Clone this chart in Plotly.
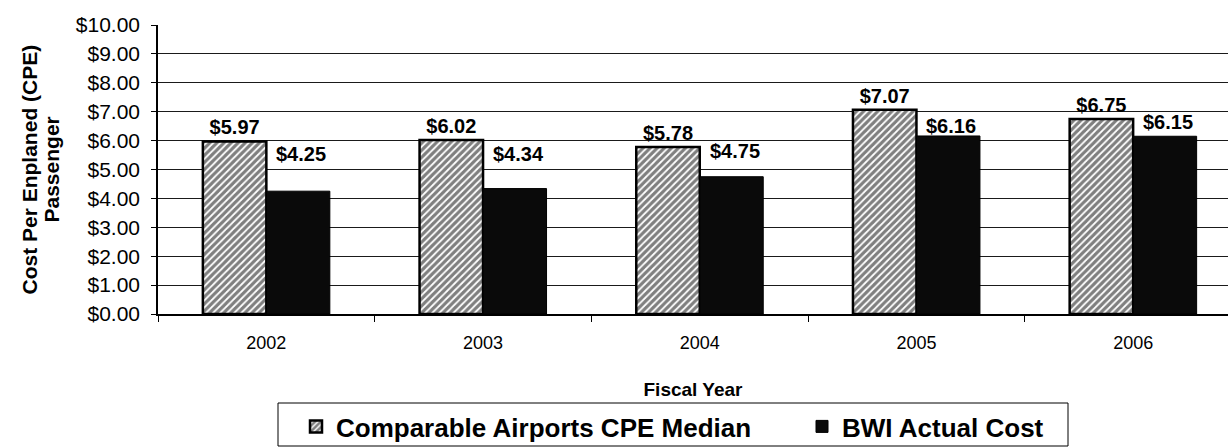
import plotly.graph_objects as go

years = ["2002", "2003", "2004", "2005", "2006"]
comparable_median = [5.97, 6.02, 5.78, 7.07, 6.75]
bwi_actual = [4.25, 4.34, 4.75, 6.16, 6.15]
bwi_label_anchor = [5.55, 5.55, 5.64, 6.49, 6.63]
y_ticks = [0, 1, 2, 3, 4, 5, 6, 7, 8, 9, 10]
y_tick_text = ["$%.2f" % v for v in y_ticks]
series_names = ["Comparable Airports CPE Median", "BWI Actual Cost"]

FONT = "Liberation Sans, Arial, sans-serif"
L, R, T, B, W, H = 158, 0, 25, 133, 1228, 447
PW, PH = W - L - R, H - T - B
CAT_W = 216.7  # pixel width of one category in the reference (chart is cropped at right)


def px_x(p):
    return (p - L) / PW


def px_y(p):
    return (H - B - p) / PH


fig = go.Figure()
fig.add_trace(go.Bar(
    x=years, y=comparable_median, name=series_names[0], legend="legend",
    marker=dict(color="white", line=dict(color="black", width=2.5),
                pattern=dict(shape="/", fgcolor="black", bgcolor="white", size=5, solidity=0.65)),
    text=["$%.2f" % v for v in comparable_median], textposition="outside",
    textfont=dict(family=FONT, size=20, color="black", weight="bold"),
    cliponaxis=False,
))
fig.add_trace(go.Bar(
    x=years, y=bwi_actual, name=series_names[1], legend="legend2",
    marker=dict(color="#0a0a0a", line=dict(color="black", width=1)),
))

for i, yr in enumerate(years):
    fig.add_annotation(
        x=i, y=bwi_label_anchor[i], xref="x", yref="y",
        text="<b>$%.2f</b>" % bwi_actual[i], showarrow=False,
        xshift=35, yanchor="middle",
        font=dict(family=FONT, size=20, color="black"),
    )

for txt, cx in [("Cost Per Enplaned (CPE)", 29), ("Passenger", 51)]:
    fig.add_annotation(
        x=px_x(cx), y=0.5, xref="paper", yref="paper",
        text="<b>%s</b>" % txt, textangle=-90,
        showarrow=False, xanchor="center", yanchor="middle",
        font=dict(family=FONT, size=21, color="black"),
    )

# legend frame
fig.add_shape(type="rect", xref="paper", yref="paper",
              x0=px_x(278), x1=px_x(1068), y0=px_y(403), y1=px_y(446),
              line=dict(color="black", width=1), fillcolor="rgba(0,0,0,0)")

x_hi = -0.5 + PW / CAT_W

legend_font = dict(family=FONT, size=26, color="black", weight="bold")
fig.update_layout(
    width=W, height=H,
    margin=dict(l=L, r=R, t=T, b=B, autoexpand=False),
    paper_bgcolor="white", plot_bgcolor="white",
    barmode="group", bargap=0.414, bargroupgap=0,
    font=dict(family=FONT, color="black"),
    showlegend=True,
    legend=dict(orientation="h", x=296 / W, y=1 - 403 / H, xref="container", yref="container",
                xanchor="left", yanchor="top",
                bgcolor="rgba(0,0,0,0)", borderwidth=0, font=legend_font),
    legend2=dict(orientation="h", x=802 / W, y=1 - 403 / H, xref="container", yref="container",
                 xanchor="left", yanchor="top",
                 bgcolor="rgba(0,0,0,0)", borderwidth=0, font=legend_font),
    xaxis=dict(
        type="category", range=[-0.5, x_hi], showline=True, linecolor="black", linewidth=1.5,
        ticks="outside", tickson="boundaries", ticklen=6, tickcolor="black",
        tickfont=dict(family=FONT, size=18, color="black"),
        ticklabelstandoff=12, automargin=False,
        title=dict(text="<b>Fiscal Year</b>", font=dict(family=FONT, size=19, color="black"), standoff=30),
        showgrid=False,
    ),
    yaxis=dict(
        range=[0, 10], tickvals=y_ticks, ticktext=y_tick_text,
        showline=True, linecolor="black", linewidth=1.5,
        ticks="outside", ticklen=5, tickcolor="black",
        tickfont=dict(family=FONT, size=21, color="black"),
        ticklabelstandoff=7, automargin=False,
        showgrid=True, gridcolor="#1a1a1a", gridwidth=1,
        zeroline=False,
    ),
)

fig.write_html(
    "out.html",
    config={"displayModeBar": False},
    post_script="document.body.style.margin='0';document.body.style.overflow='hidden';",
)
